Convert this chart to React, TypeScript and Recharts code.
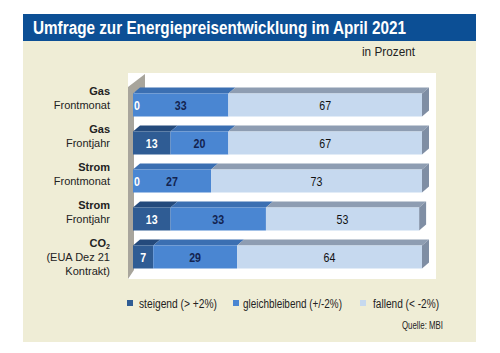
import { BarChart, Bar, XAxis, YAxis, LabelList } from 'recharts';

// Survey categories (bold first line, normal follow-up lines)
const categoryTitles = ['Gas', 'Gas', 'Strom', 'Strom', 'CO2'];
const categorySubtitles = [
  ['Frontmonat'],
  ['Frontjahr'],
  ['Frontmonat'],
  ['Frontjahr'],
  ['(EUA Dez 21', 'Kontrakt)'],
];

// Shares in percent
const steigend = [0, 13, 0, 13, 7];
const gleichbleibend = [33, 20, 27, 33, 29];
const fallend = [67, 67, 73, 53, 64];

const seriesNames = ['steigend (> +2%)', 'gleichbleibend (+/-2%)', 'fallend (< -2%)'];

const data = categoryTitles.map((title, i) => ({
  id: i,
  title,
  sub: categorySubtitles[i],
  steigend: steigend[i],
  gleichbleibend: gleichbleibend[i],
  fallend: fallend[i],
}));

const SANS = "'Liberation Sans', Arial, sans-serif";

const PLOT_LEFT = 133;
const PLOT_RIGHT = 422;
const PLOT_TOP = 85.5;
const PLOT_BOTTOM = 275.5;
const W = 500;
const H = 353;
const DX = 7;
const DY = 6;

const palette = {
  steigend: { front: '#2f5c94', top: '#244a7c', label: '#ffffff', weight: 'bold' },
  gleichbleibend: { front: '#4a86d2', top: '#3b6fb2', label: '#13234f', weight: 'bold' },
  fallend: { front: '#c6d9ef', top: '#8e9db2', side: '#7f8ea4', label: '#111111', weight: 'normal' },
};

function Bar3D(props: any) {
  const { x, y, width, height, colors, last } = props;
  if (!width || width <= 0) return null;
  const top = `${x},${y} ${x + DX},${y - DY} ${x + width + DX},${y - DY} ${x + width},${y}`;
  const side = `${x + width},${y} ${x + width + DX},${y - DY} ${x + width + DX},${y + height - DY} ${x + width},${y + height}`;
  return (
    <g>
      <polygon points={top} fill={colors.top} />
      {last && <polygon points={side} fill={colors.side} />}
      <rect x={x} y={y} width={width} height={height} fill={colors.front} />
    </g>
  );
}

function valueLabel(colors: any) {
  return (props: any) => {
    const { x, y, width, height, value } = props;
    const zero = value === 0;
    const tx = zero ? x + 1 : x + width / 2;
    return (
      <text
        x={tx}
        y={y + height / 2}
        textAnchor={zero ? 'start' : 'middle'}
        dominantBaseline="central"
        fill={colors.label}
        fontFamily={SANS}
        fontWeight={colors.weight}
        fontSize={12.5}
        transform={`translate(${tx},0) scale(0.85,1) translate(${-tx},0)`}
      >
        {value}
      </text>
    );
  };
}

function CategoryTick(props: any) {
  const { y, payload } = props;
  const row = data[payload.value];
  const tx = 110;
  return (
    <g fontFamily={SANS} fontSize={11} fill="#222">
      <text x={tx} y={y - 13.5} textAnchor="end" dominantBaseline="central" fontWeight="bold">
        {row.title === 'CO2' ? (
          <>
            CO<tspan fontSize={7} dy={3}>2</tspan>
          </>
        ) : (
          row.title
        )}
      </text>
      {row.sub.map((s: string, k: number) => (
        <text key={k} x={tx} y={y + k * 14} textAnchor="end" dominantBaseline="central">
          {s}
        </text>
      ))}
    </g>
  );
}

// squeezed text to mimic the condensed face of the original
function FitText({ x, y, len, size, children, bold, fill }: any) {
  return (
    <text x={x} y={y} textLength={len} lengthAdjust="spacingAndGlyphs" fontFamily={SANS}
      fontSize={size} fontWeight={bold ? 'bold' : 'normal'} fill={fill || '#222'}>
      {children}
    </text>
  );
}

const legendColors = [palette.steigend.front, palette.gleichbleibend.front, palette.fallend.front];
const legendSquareX = [127, 233, 360];
const legendTextX = [139, 243, 373];
const legendTextLen = [78, 99, 66];

export default function App() {
  return (
    <div style={{ position: 'absolute', left: 0, top: 0, width: W, height: H, background: '#fff' }}>
      {/* frame, backdrop and side wall */}
      <svg style={{ position: 'absolute', left: 0, top: 0 }} width={W} height={H}>
        <rect x={23} y={14} width={453} height={27} fill="#0c4f95" />
        <rect x={23} y={41} width={453} height={301} fill="#efedd6" />
        <FitText x={33} y={34} len={373} size={18} bold fill="#fff">
          Umfrage zur Energiepreisentwicklung im April 2021
        </FitText>
        <FitText x={362} y={56} len={53} size={12.5}>in Prozent</FitText>
        <rect x={PLOT_LEFT - 5} y={73} width={PLOT_RIGHT - PLOT_LEFT + 19} height={206} fill="#fff" />
        <polygon points="128,279 128,87 145,74 145,92 134,92 134,270" fill="#a8a59c" />
        {seriesNames.map((name, i) => (
          <g key={name}>
            <rect x={legendSquareX[i]} y={300} width={6} height={6} fill={legendColors[i]} />
            <FitText x={legendTextX[i]} y={307.5} len={legendTextLen[i]} size={12.5}>{name}</FitText>
          </g>
        ))}
        <FitText x={402} y={329} len={41} size={11.5}>Quelle: MBI</FitText>
      </svg>

      <div style={{ position: 'absolute', left: 0, top: 0 }}>
        <BarChart
          width={W}
          height={H}
          data={data}
          layout="vertical"
          margin={{ top: PLOT_TOP, bottom: H - PLOT_BOTTOM, left: 0, right: W - PLOT_RIGHT }}
        >
          <XAxis type="number" domain={[0, 100]} hide />
          <YAxis type="category" dataKey="id" width={PLOT_LEFT} axisLine={false} tickLine={false} tick={CategoryTick} />
          <Bar dataKey="steigend" stackId="a" barSize={23} isAnimationActive={false}
            shape={(p: any) => <Bar3D {...p} colors={palette.steigend} />}>
            <LabelList dataKey="steigend" content={valueLabel(palette.steigend)} />
          </Bar>
          <Bar dataKey="gleichbleibend" stackId="a" barSize={23} isAnimationActive={false}
            shape={(p: any) => <Bar3D {...p} colors={palette.gleichbleibend} />}>
            <LabelList dataKey="gleichbleibend" content={valueLabel(palette.gleichbleibend)} />
          </Bar>
          <Bar dataKey="fallend" stackId="a" barSize={23} isAnimationActive={false}
            shape={(p: any) => <Bar3D {...p} colors={palette.fallend} last />}>
            <LabelList dataKey="fallend" content={valueLabel(palette.fallend)} />
          </Bar>
        </BarChart>
      </div>
    </div>
  );
}
